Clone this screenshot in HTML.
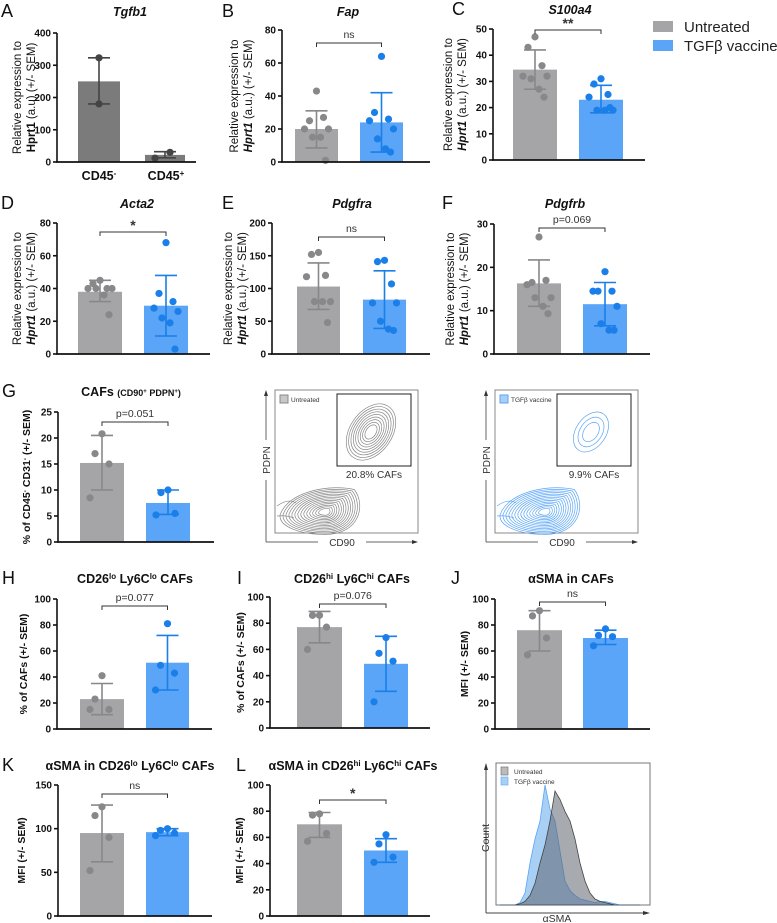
<!DOCTYPE html>
<html><head><meta charset="utf-8">
<style>
html,body{margin:0;padding:0;background:#fff;}
svg{display:block;font-family:"Liberation Sans",Arial,sans-serif;}
</style></head>
<body>
<svg id="fig" width="777" height="923" viewBox="0 0 777 923" xmlns="http://www.w3.org/2000/svg">
<g id="static">
  <rect x="653" y="21" width="20" height="11" fill="#a5a5a8"/>
  <text x="684" y="32" font-size="15" fill="#222">Untreated</text>
  <rect x="653" y="40" width="20" height="11" fill="#5aa5f7"/>
  <text x="684" y="51" font-size="15" fill="#222">TGFβ vaccine</text>
</g>
<g id="charts"></g>
</svg>
<script>
// ---------- data ----------
const groups = ["Untreated", "TGFβ vaccine"];
const aCats = ["CD45-", "CD45+"];
const aMeans = [250, 22];
const aLo = [180, 13];
const aHi = [323, 32];
const aPts = [[323, 180], [12, 30]];
const aTicks = [0, 100, 200, 300, 400];

const fapMeans = [20, 24];
const fapLo = [8.5, 6];
const fapHi = [31, 42];
const fapPts = [[43, 25, 27, 20, 20, 15, 15, 1], [64, 30, 26, 25, 20, 14, 8, 6]];
const fapTicks = [0, 20, 40, 60, 80];

const s100Means = [34.5, 23];
const s100Lo = [27, 18];
const s100Hi = [42, 28.5];
const s100Pts = [[47, 43, 36, 32, 32, 31, 27, 24], [31, 29, 25, 24, 19, 19, 19, 20]];
const s100Ticks = [0, 10, 20, 30, 40, 50];

const actaMeans = [38, 29.5];
const actaLo = [32, 11];
const actaHi = [45, 48];
const actaPts = [[45, 43, 40, 40, 40, 40, 36, 24], [68, 37, 32, 28, 26, 22, 19, 3]];
const actaTicks = [0, 20, 40, 60, 80];

const pdgfraMeans = [103, 83];
const pdgfraLo = [68, 39];
const pdgfraHi = [139, 127];
const pdgfraPts = [[155, 152, 120, 118, 80, 80, 80, 48], [143, 141, 107, 78, 78, 50, 38, 36]];
const pdgfraTicks = [0, 50, 100, 150, 200];

const pdgfrbMeans = [16.3, 11.5];
const pdgfrbLo = [11, 6.5];
const pdgfrbHi = [21.7, 16.5];
const pdgfrbPts = [[27, 16.5, 17, 16, 13, 13, 11, 9.3], [19, 14.5, 14.5, 14.5, 11, 7, 5.5, 5.5]];
const pdgfrbTicks = [0, 10, 20, 30];

const cafMeans = [15.2, 7.5];
const cafLo = [10, 5.3];
const cafHi = [20.5, 10];
const cafPts = [[20.8, 17, 15, 8.5], [10, 9.5, 5.5, 5.2]];
const cafTicks = [0, 5, 10, 15, 20, 25];

const loMeans = [23, 51];
const loLo = [11, 30];
const loHi = [35, 72];
const loPts = [[41, 23, 15, 15], [81, 49, 43, 30]];
const hiMeans = [77, 49];
const hiLo = [65, 28];
const hiHi = [89, 70];
const hiPts = [[86, 86, 77, 60], [69, 57, 51, 20]];
const smaMeans = [76, 70];
const smaLo = [60, 65];
const smaHi = [91, 76];
const smaPts = [[91, 87, 70, 57], [77, 72, 71, 64]];
const pctTicks = [0, 20, 40, 60, 80, 100];

const smaLoMeans = [95, 96];
const smaLoLo = [62, 92];
const smaLoHi = [127, 100];
const smaLoPts = [[125, 115, 90, 52], [100, 98, 95, 92]];
const smaLoTicks = [0, 50, 100, 150];
const smaHiMeans = [70, 50];
const smaHiLo = [60, 41];
const smaHiHi = [79, 59];
const smaHiPts = [[78, 77, 63, 57], [62, 55, 45, 41]];

const histBins = [500,505,510,515,520,525,530,535,540,545,550,555,560,565,570,575,580,585,590,595,600,605,610,615,620,625,630,635,640];
const histGray = [0,0,0,0,1,3,8,18,35,50,70,95,88,78,70,55,35,20,10,5,3,2,1,0,0,0,0,0,0];
const histBlue = [0,0,0,0,2,10,35,55,70,100,80,70,45,20,12,8,5,4,3,2,3,3,2,1,0,0,0,0,0];

// ---------- drawing ----------
const NS = "http://www.w3.org/2000/svg";
const root = document.getElementById("charts");
function mk(tag, attrs, parent) {
  const e = document.createElementNS(NS, tag);
  for (const k in attrs) e.setAttribute(k, attrs[k]);
  (parent || root).appendChild(e);
  return e;
}
function txt(parent, x, y, s, size, extra) {
  const t = mk("text", Object.assign({x: x, y: y, "font-size": size, fill: "#111"}, extra || {}), parent);
  t.innerHTML = s;
  return t;
}
const COLORS = [
  {bar: "#a5a5a8", pt: "#88888b"},
  {bar: "#5aa5f7", pt: "#1a7fe8"}
];
const JIT = [0, -7, 7, -12, 12, -4, 4, 9];

function panel(p) {
  const g = mk("g", {});
  
  
  const max = p.ticks[p.ticks.length - 1];
  const y = v => p.y0 - v / max * (p.y0 - p.yTop);
  p.means.forEach((m, i) => {
    const col = p.colors ? p.colors[i] : COLORS[i];
    const bx = p.bars[i];
    const r = mk("rect", {x: bx[0], y: y(m), width: bx[1] - bx[0], height: p.y0 - y(m), fill: col.bar}, g);
    
    
    const cx = (bx[0] + bx[1]) / 2;
    const pts = p.pts[i];
    pts.forEach((v, j) => {
      const jx = p.cats ? 0 : JIT[j % JIT.length];
      const c = mk("circle", {cx: cx + jx, cy: y(v), r: 3.6, fill: col.pt}, g);
      
      
    });
    const eb = mk("g", {stroke: col.pt, "stroke-width": 1.6, fill: "none"}, g);
    
    
    mk("line", {x1: cx, x2: cx, y1: y(p.lo[i]), y2: y(p.hi[i])}, eb);
    mk("line", {x1: cx - 11, x2: cx + 11, y1: y(p.lo[i]), y2: y(p.lo[i])}, eb);
    mk("line", {x1: cx - 11, x2: cx + 11, y1: y(p.hi[i]), y2: y(p.hi[i])}, eb);
  });
  const ax = mk("g", {stroke: "#111", "stroke-width": 1.6}, g);
  
  
  mk("line", {x1: p.ax, x2: p.ax, y1: p.yTop, y2: p.y0}, ax);
  const xa = mk("line", {x1: p.ax - 1, x2: p.axEnd, y1: p.y0, y2: p.y0, stroke: "#111", "stroke-width": 1.8}, g);
  
  
  p.ticks.forEach(t => {
    mk("line", {x1: p.ax - 4, x2: p.ax, y1: y(t), y2: y(t)}, ax);
    const tl = txt(g, p.ax - 6, y(t) + 3.5, String(t), 10, {"text-anchor": "end", "font-weight": "bold"});
    
    
  });
  const tt = txt(g, p.titleX, p.titleY, p.title, 12.5, {"text-anchor": "middle", "font-weight": "bold", "font-style": p.italic ? "italic" : "normal"});
  
  
  const lt = txt(g, p.letterX, p.titleY + 1, p.letter, 18, {});
  
  
  const yc = (p.yTop + p.y0) / 2;
  p.ytitle.forEach((line, k) => {
    const yt = txt(g, 0, 0, line, p.ytSize || 11.5, {"text-anchor": "middle", "font-weight": p.ytBold ? "bold" : "normal",
      transform: "translate(" + p.ytX[k] + "," + yc + ") rotate(-90)"});
    
    
  });
  if (p.sig) {
    const c0 = (p.bars[0][0] + p.bars[0][1]) / 2, c1 = (p.bars[1][0] + p.bars[1][1]) / 2;
    const br = mk("path", {d: "M" + c0 + "," + (p.brY + 4) + "V" + p.brY + "H" + c1 + "V" + (p.brY + 4), stroke: "#333", fill: "none", "stroke-width": 1}, g);
    
    
    const st = txt(g, (c0 + c1) / 2, p.brY - (p.sig.indexOf("*") >= 0 ? 2 : 5), p.sig, p.sig.indexOf("*") >= 0 ? 14 : 10.5, {"text-anchor": "middle", fill: "#333", "font-weight": p.sig.indexOf("*") >= 0 ? "bold" : "normal"});
    
    
  }
  return {g: g, y: y};
}
const REL = ["Relative expression to", "<tspan font-style='italic' font-weight='bold'>Hprt1</tspan> (a.u.) (+/- SEM)"];

const pA = panel({name: "panel-a-tgfb1", letter: "A", letterX: 1, title: "Tgfb1", italic: true, titleX: 130, titleY: 16,
  ax: 57, axEnd: 196, yTop: 33, y0: 162, ticks: aTicks, means: aMeans, lo: aLo, hi: aHi, pts: aPts, cats: aCats,
  colors: [{bar: "#7b7b7b", pt: "#444"}, {bar: "#7b7b7b", pt: "#444"}],
  bars: [[78, 120], [145, 185]], ytitle: ["Relative expression to", "<tspan font-weight='bold'>Hprt1</tspan> (a.u) (+/- SEM)"], ytX: [21, 35]});
pA.g.querySelectorAll("circle").forEach((c, i) => { if (i >= 2) c.setAttribute("cx", 160 + (i === 2 ? -5 : 10)); });
["CD45<tspan baseline-shift='super' font-size='8'>-</tspan>", "CD45<tspan baseline-shift='super' font-size='8'>+</tspan>"].forEach((s, i) => {
  const t = txt(pA.g, i ? 166 : 99, 180, s, 12.5, {"text-anchor": "middle", "font-weight": "bold"});
  
  
});
panel({name: "panel-b-fap", letter: "B", letterX: 222, title: "Fap", italic: true, titleX: 348, titleY: 16,
  ax: 282, axEnd: 430, yTop: 30, y0: 162, ticks: fapTicks, means: fapMeans, lo: fapLo, hi: fapHi, pts: fapPts,
  bars: [[295, 338], [360, 403]], ytitle: REL, ytX: [238, 252], sig: "ns", brY: 43});
panel({name: "panel-c-s100a4", letter: "C", letterX: 452, title: "S100a4", italic: true, titleX: 570, titleY: 14,
  ax: 493, axEnd: 645, yTop: 29, y0: 160, ticks: s100Ticks, means: s100Means, lo: s100Lo, hi: s100Hi, pts: s100Pts,
  bars: [[513, 557], [579, 623]], ytitle: REL, ytX: [452, 466], sig: "**", brY: 30});
panel({name: "panel-d-acta2", letter: "D", letterX: 1, title: "Acta2", italic: true, titleX: 137, titleY: 208,
  ax: 57, axEnd: 210, yTop: 223, y0: 354, ticks: actaTicks, means: actaMeans, lo: actaLo, hi: actaHi, pts: actaPts,
  bars: [[78, 122], [144, 188]], ytitle: REL, ytX: [21, 35], sig: "*", brY: 232});
panel({name: "panel-e-pdgfra", letter: "E", letterX: 222, title: "Pdgfra", italic: true, titleX: 352, titleY: 208,
  ax: 272, axEnd: 430, yTop: 223, y0: 354, ticks: pdgfraTicks, means: pdgfraMeans, lo: pdgfraLo, hi: pdgfraHi, pts: pdgfraPts,
  bars: [[297, 340], [363, 406]], ytitle: REL, ytX: [232, 246], sig: "ns", brY: 237});
panel({name: "panel-f-pdgfrb", letter: "F", letterX: 442, title: "Pdgfrb", italic: true, titleX: 565, titleY: 208,
  ax: 494, axEnd: 650, yTop: 224, y0: 354, ticks: pdgfrbTicks, means: pdgfrbMeans, lo: pdgfrbLo, hi: pdgfrbHi, pts: pdgfrbPts,
  bars: [[517, 561], [583, 627]], ytitle: REL, ytX: [454, 468], sig: "p=0.069", brY: 228});
panel({name: "panel-g-cafs", letter: "G", letterX: 2, title: "CAFs <tspan font-size='9'>(CD90<tspan baseline-shift='super' font-size='6'>+</tspan> PDPN<tspan baseline-shift='super' font-size='6'>+</tspan>)</tspan>", titleX: 131, titleY: 396,
  ax: 58, axEnd: 214, yTop: 412, y0: 542, ticks: cafTicks, means: cafMeans, lo: cafLo, hi: cafHi, pts: cafPts,
  bars: [[80, 124], [146, 190]], ytitle: ["% of CD45<tspan baseline-shift='super' font-size='7'>-</tspan> CD31<tspan baseline-shift='super' font-size='7'>-</tspan> (+/- SEM)"], ytX: [30], ytBold: true, ytSize: 10.5, sig: "p=0.051", brY: 422});
panel({name: "panel-h-cd26lo", letter: "H", letterX: 2, title: "CD26<tspan baseline-shift='super' font-size='8'>lo</tspan> Ly6C<tspan baseline-shift='super' font-size='8'>lo</tspan> CAFs", titleX: 135, titleY: 583,
  ax: 57, axEnd: 212, yTop: 599, y0: 729, ticks: pctTicks, means: loMeans, lo: loLo, hi: loHi, pts: loPts,
  bars: [[80, 124], [146, 189]], ytitle: ["% of CAFs (+/- SEM)"], ytX: [27], ytBold: true, ytSize: 10.5, sig: "p=0.077", brY: 606});
panel({name: "panel-i-cd26hi", letter: "I", letterX: 237, title: "CD26<tspan baseline-shift='super' font-size='8'>hi</tspan> Ly6C<tspan baseline-shift='super' font-size='8'>hi</tspan> CAFs", titleX: 352, titleY: 583,
  ax: 270, axEnd: 430, yTop: 597, y0: 728, ticks: pctTicks, means: hiMeans, lo: hiLo, hi: hiHi, pts: hiPts,
  bars: [[297, 342], [364, 408]], ytitle: ["% of CAFs (+/- SEM)"], ytX: [244], ytBold: true, ytSize: 10.5, sig: "p=0.076", brY: 604});
panel({name: "panel-j-asma-cafs", letter: "J", letterX: 451, title: "αSMA in CAFs", titleX: 571, titleY: 583,
  ax: 495, axEnd: 650, yTop: 599, y0: 729, ticks: pctTicks, means: smaMeans, lo: smaLo, hi: smaHi, pts: smaPts,
  bars: [[517, 562], [583, 628]], ytitle: ["MFI (+/- SEM)"], ytX: [468], ytBold: true, ytSize: 10.5, sig: "ns", brY: 602});
panel({name: "panel-k-asma-lo", letter: "K", letterX: 2, title: "αSMA in CD26<tspan baseline-shift='super' font-size='8'>lo</tspan> Ly6C<tspan baseline-shift='super' font-size='8'>lo</tspan> CAFs", titleX: 130, titleY: 770,
  ax: 58, axEnd: 212, yTop: 785, y0: 916, ticks: smaLoTicks, means: smaLoMeans, lo: smaLoLo, hi: smaLoHi, pts: smaLoPts,
  bars: [[80, 124], [146, 189]], ytitle: ["MFI (+/- SEM)"], ytX: [25], ytBold: true, ytSize: 10.5, sig: "ns", brY: 794});
panel({name: "panel-l-asma-hi", letter: "L", letterX: 236, title: "αSMA in CD26<tspan baseline-shift='super' font-size='8'>hi</tspan> Ly6C<tspan baseline-shift='super' font-size='8'>hi</tspan> CAFs", titleX: 353, titleY: 770,
  ax: 270, axEnd: 430, yTop: 785, y0: 916, ticks: pctTicks, means: smaHiMeans, lo: smaHiLo, hi: smaHiHi, pts: smaHiPts,
  bars: [[297, 342], [364, 408]], ytitle: ["MFI (+/- SEM)"], ytX: [243], ytBold: true, ytSize: 10.5, sig: "*", brY: 800});

// ---------- flow contour plots ----------
function flow(ox, color, label, pct, rings, gateRings, name) {
  const g = mk("g", {});
  
  
  mk("rect", {x: ox + 9, y: 390, width: 143, height: 143, fill: "none", stroke: "#888", "stroke-width": 1}, g);
  mk("rect", {x: ox + 71, y: 394, width: 74, height: 72, fill: "none", stroke: "#222", "stroke-width": 1}, g);
  mk("line", {x1: ox, y1: 542, x2: ox, y2: 392, stroke: "#666"}, g);
  mk("path", {d: "M" + (ox - 2) + ",396 L" + ox + ",390 L" + (ox + 2) + ",396Z", fill: "#333"}, g);
  mk("line", {x1: ox, y1: 542, x2: ox + 150, y2: 542, stroke: "#666"}, g);
  mk("path", {d: "M" + (ox + 146) + ",540 L" + (ox + 152) + ",542 L" + (ox + 146) + ",544Z", fill: "#333"}, g);
  mk("rect", {x: ox + 52, y: 536, width: 48, height: 12, fill: "#fff"}, g);
  mk("rect", {x: ox - 6, y: 440, width: 12, height: 40, fill: "#fff"}, g);
  txt(g, ox + 76, 546, "CD90", 10, {"text-anchor": "middle", fill: "#333"});
  txt(g, 0, 0, "PDPN", 10, {"text-anchor": "middle", fill: "#333", transform: "translate(" + (ox + 4) + ",460) rotate(-90)"});
  mk("rect", {x: ox + 14, y: 395, width: 8, height: 8, fill: color === "#888" ? "#c8c8c8" : "#a8d0f5", stroke: color}, g);
  txt(g, ox + 25, 402, label, 6.5, {fill: "#333"});
  txt(g, ox + 108, 478, pct, 10, {"text-anchor": "middle", fill: "#333"});
  // teardrop-shaped main population
  for (let i = 0; i < rings; i++) {
    const f = 1 - i / rings;
    const cx = ox + 59, cy = 512;
    const w = 3 + 36 * f, h = 2 + 23 * f;
    const d = "M" + (cx - w * 1.15) + "," + (cy + h * 0.1) +
      " C" + (cx - w * 0.9) + "," + (cy - h * 0.9) + " " + (cx + w * 0.2) + "," + (cy - h * 1.1) + " " + (cx + w * 0.75) + "," + (cy - h * 0.9) +
      " C" + (cx + w * 1.05) + "," + (cy - h * 0.3) + " " + (cx + w * 0.9) + "," + (cy + h * 0.9) + " " + (cx) + "," + (cy + h * 0.9) +
      " C" + (cx - w * 0.6) + "," + (cy + h * 0.9) + " " + (cx - w * 1.2) + "," + (cy + h * 0.6) + " " + (cx - w * 1.15) + "," + (cy + h * 0.1) + "Z";
    mk("path", {d: d, fill: "none", stroke: color, "stroke-width": 0.7}, g);
  }
  mk("path", {d: "M" + (ox + 11) + ",506 Q" + (ox + 22) + ",498 " + (ox + 30) + ",503", fill: "none", stroke: color, "stroke-width": 0.7}, g);
  mk("path", {d: "M" + (ox + 11) + ",516 Q" + (ox + 20) + ",515 " + (ox + 28) + ",518", fill: "none", stroke: color, "stroke-width": 0.7}, g);
  for (let i = 0; i < gateRings; i++) {
    const f = 1 - i / gateRings;
    mk("ellipse", {cx: ox + 105, cy: 432, rx: 3 + (gateRings > 4 ? 18 : 12) * f, ry: 5 + (gateRings > 4 ? 26 : 17) * f, fill: "none", stroke: color, "stroke-width": 0.7, transform: "rotate(35 " + (ox + 105) + " 432)"}, g);
  }
}
flow(266, "#888", "Untreated", "20.8% CAFs", 14, 9, "flow-plot-untreated");
flow(486, "#5aa5f7", "TGFβ vaccine", "9.9% CAFs", 14, 3, "flow-plot-vaccine");

// ---------- histogram ----------
(function () {
  const g = mk("g", {});
  
  
  const hy = c => 905 - c * 1.2;
  mk("rect", {x: 496, y: 763, width: 154, height: 142, fill: "none", stroke: "#777"}, g);
  function area(arr, fill, stroke, nm) {
    let d = "M" + histBins[0] + ",905";
    histBins.forEach((b, i) => { d += " L" + b + "," + hy(arr[i]); });
    d += " L" + histBins[histBins.length - 1] + ",905Z";
    const p = mk("path", {d: d, fill: fill, stroke: stroke, "stroke-width": 0.8}, g);
    
    
  }
  area(histBlue, "#a8d0f5", "#5aa5f7", "histogram-vaccine");
  area(histGray, "rgba(95,100,110,0.55)", "#444", "histogram-untreated");
  mk("line", {x1: 486, y1: 913, x2: 486, y2: 764, stroke: "#444"}, g);
  mk("path", {d: "M484,770 L486,763 L488,770Z", fill: "#333"}, g);
  mk("line", {x1: 486, y1: 913, x2: 648, y2: 913, stroke: "#444"}, g);
  mk("path", {d: "M643,911 L650,913 L643,915Z", fill: "#333"}, g);
  txt(g, 0, 0, "Count", 10.5, {"text-anchor": "middle", fill: "#333", transform: "translate(489,838) rotate(-90)"});
  txt(g, 557, 922, "αSMA", 10.5, {"text-anchor": "middle", fill: "#333"});
  mk("rect", {x: 501, y: 767, width: 7, height: 8, fill: "#bbb", stroke: "#666", "stroke-width": 0.6}, g);
  txt(g, 514, 774, "Untreated", 6.5, {fill: "#333"});
  mk("rect", {x: 501, y: 777, width: 7, height: 8, fill: "#a8d0f5", stroke: "#5aa5f7", "stroke-width": 0.6}, g);
  txt(g, 514, 784, "TGFβ vaccine", 6.5, {fill: "#333"});
})();
</script>
</body></html>
